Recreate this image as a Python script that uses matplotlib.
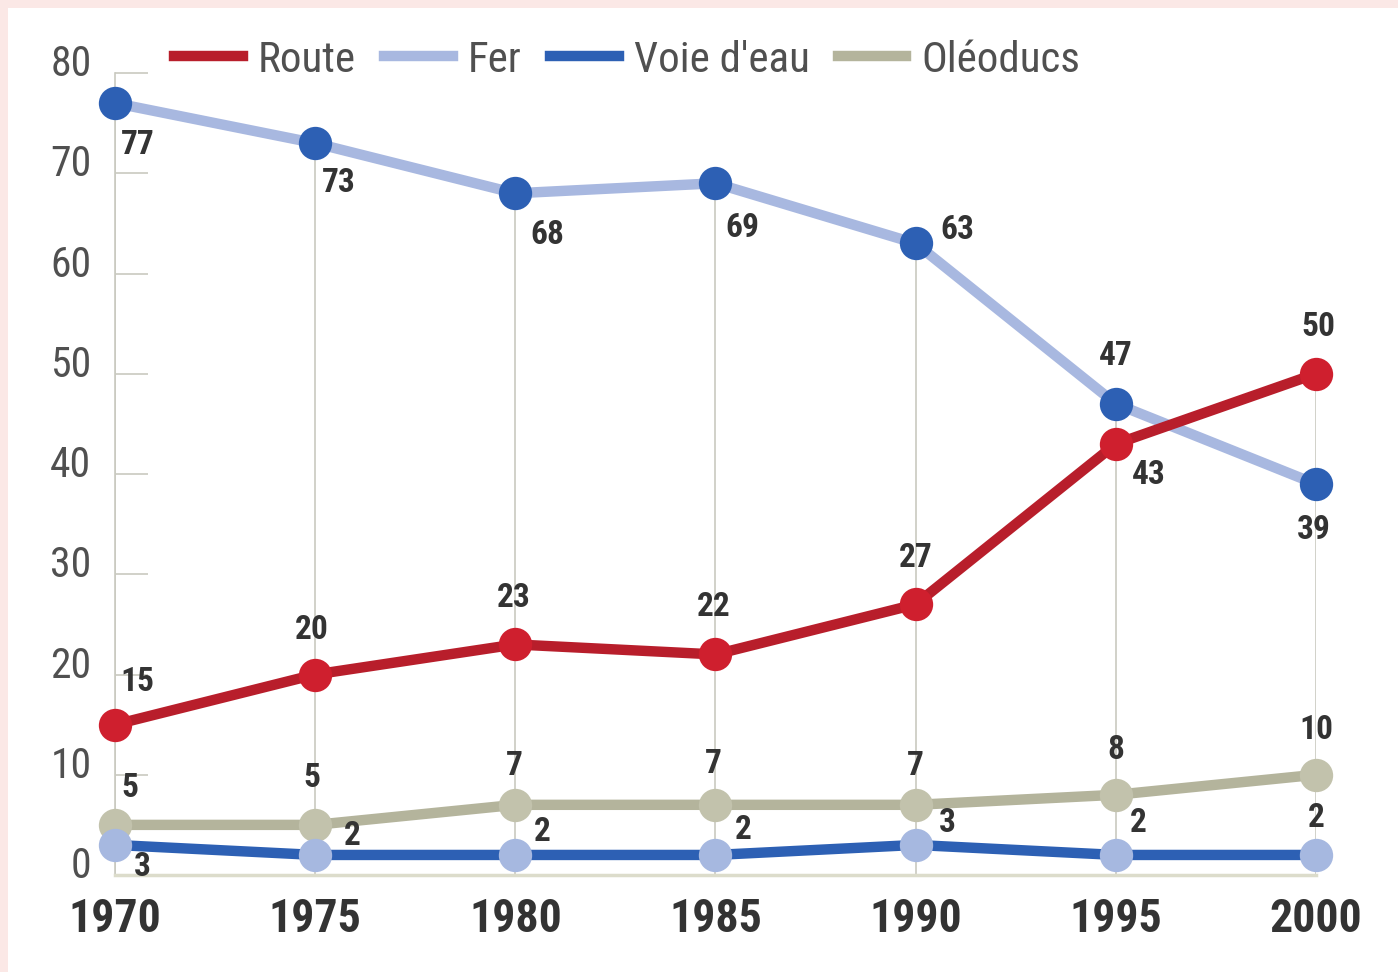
import matplotlib
matplotlib.use("Agg")
import matplotlib.pyplot as plt
from matplotlib import font_manager
from matplotlib.patches import Rectangle
from matplotlib.lines import Line2D
from matplotlib.transforms import ScaledTranslation

# Data (share of freight transport, %)
years = [1970, 1975, 1980, 1985, 1990, 1995, 2000]
route = [15, 20, 23, 22, 27, 43, 50]
fer = [77, 73, 68, 69, 63, 47, 39]
voie_eau = [3, 2, 2, 2, 3, 2, 2]
oleoducs = [5, 5, 7, 7, 7, 8, 10]
y_ticks = [0, 10, 20, 30, 40, 50, 60, 70, 80]

# pick a narrow font when one is installed
names = {f.name for f in font_manager.fontManager.ttflist}
FONT = 'DejaVu Sans'
for cand in ['Liberation Sans Narrow', 'Roboto Condensed', 'Open Sans Condensed', 'Liberation Sans']:
    if cand in names:
        FONT = cand
        break
plt.rcParams['font.family'] = [FONT, 'DejaVu Sans']

C = {
    'route_line': '#b81e2b', 'route_mk': '#cf1f2e',
    'fer_line': '#a8b8e0', 'fer_mk': '#2d60b4',
    'eau_line': '#2d60b4', 'eau_mk': '#a6b8e0',
    'ole_line': '#b4b49c', 'ole_mk': '#c2c2ac',
    'grid': '#c9c9c0', 'text': '#333333', 'tick': '#505050',
}

# label offsets in pixels (dx, dy up)
off_fer = [(23, -42), (24, -40), (32, -42), (27, -45), (42, 13), (0, 48), (-2, -46)]
off_route = [(22, 43), (-3, 45), (-2, 46), (-2, 47), (0, 46), (33, -31), (2, 47)]
off_ole = [(15, 37), (-3, 47), (-1, 39), (-2, 41), (0, 39), (0, 45), (0, 45)]
off_eau = [(27, -22), (37, 19), (27, 23), (28, 25), (32, 22), (22, 32), (0, 37)]

fig = plt.figure(figsize=(13.98, 9.72), dpi=100)
fig.patch.set_facecolor('#fbe8e6')
fig.patches.append(Rectangle((8 / 1398, 0), 1, 1 - 8 / 972, transform=fig.transFigure,
                             facecolor='white', edgecolor='none', zorder=-5))

ax = fig.add_axes([115 / 1398, 1 - 875 / 972, (1316 - 115) / 1398, (875 - 73) / 972])
ax.set_facecolor('none')
ax.set_xlim(1970, 2000)
ax.set_ylim(0, 80)

# vertical guide lines from 0 up to the top value of each year
tops = [max(a, b, c, d) for a, b, c, d in zip(route, fer, voie_eau, oleoducs)]
ax.vlines(years, 0, tops, color=C['grid'], lw=1.2, zorder=1)

lw = 7.5
ms = 24
series = [
    (oleoducs, C['ole_line'], C['ole_mk'], off_ole, 'Oléoducs'),
    (voie_eau, C['eau_line'], C['eau_mk'], off_eau, "Voie d'eau"),
    (fer, C['fer_line'], C['fer_mk'], off_fer, 'Fer'),
    (route, C['route_line'], C['route_mk'], off_route, 'Route'),
]
for i, (vals, lc, mc, offs, name) in enumerate(series):
    z = 3 + i * 2
    ax.plot(years, vals, color=lc, lw=lw, solid_capstyle='round', zorder=z, clip_on=False)
    ax.plot(years, vals, 'o', color=mc, ms=ms, mew=0, zorder=z + 1, clip_on=False)
    for x, v, (dx, dy) in zip(years, vals, offs):
        ax.annotate(str(v), (x, v), xytext=(dx * 0.72, dy * 0.72), textcoords='offset points',
                    ha='center', va='center', fontsize=24, fontweight='bold',
                    color=C['text'], zorder=20, annotation_clip=False)

# axes styling
for s in ['top', 'right']:
    ax.spines[s].set_visible(False)
ax.spines['left'].set_color(C['grid'])
ax.spines['left'].set_linewidth(1.2)
ax.spines['bottom'].set_color('#dcdccb')
ax.spines['bottom'].set_linewidth(2.5)

ax.set_yticks(y_ticks)
ax.set_yticklabels([str(t) for t in y_ticks])
ax.tick_params(axis='y', direction='in', length=24, width=1.2, color=C['grid'],
               pad=17, labelsize=30, labelcolor=C['tick'])
for lab in ax.get_yticklabels():
    lab.set_transform(lab.get_transform() + ScaledTranslation(0, 0.13, fig.dpi_scale_trans))

ax.set_xticks(years)
ax.set_xticklabels([str(y) for y in years])
ax.tick_params(axis='x', length=0, pad=16, labelsize=33, labelcolor=C['text'])
for lab in ax.get_xticklabels():
    lab.set_fontweight('bold')

# legend
handles = [Line2D([], [], color=C['route_line'], lw=lw),
           Line2D([], [], color=C['fer_line'], lw=lw),
           Line2D([], [], color=C['eau_line'], lw=lw),
           Line2D([], [], color=C['ole_line'], lw=lw)]
leg = fig.legend(handles, ['Route', 'Fer', "Voie d'eau", 'Oléoducs'], ncol=4, frameon=False,
                 loc='center left', bbox_to_anchor=(174 / 1398, 1 - 60 / 972),
                 fontsize=31, handlelength=1.6, handletextpad=0.35, columnspacing=0.65,
                 borderpad=0, borderaxespad=0)
for t in leg.get_texts():
    t.set_color(C['tick'])

fig.savefig('out.png', dpi=100, facecolor=fig.get_facecolor())
